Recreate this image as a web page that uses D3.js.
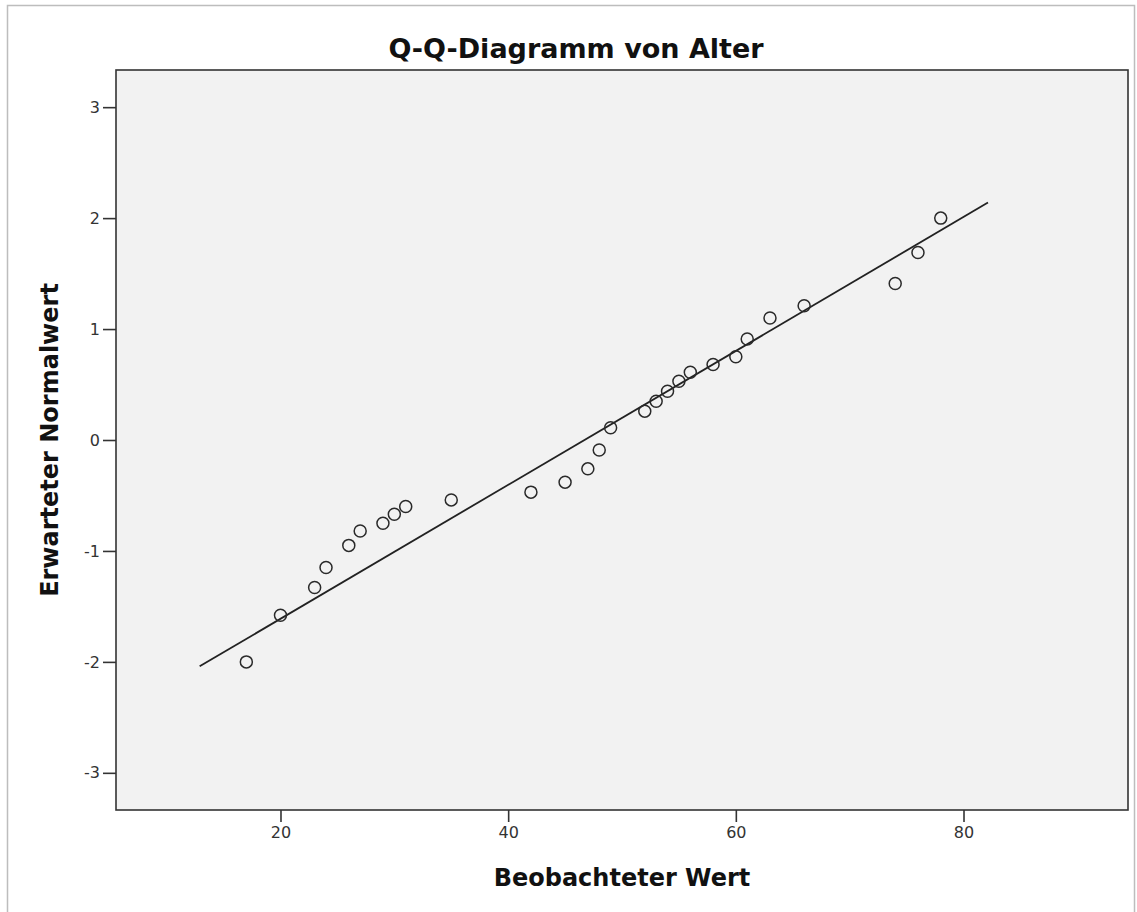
<!DOCTYPE html>
<html>
<head>
<meta charset="utf-8">
<script src="https://cdn.jsdelivr.net/npm/d3@7"></script>
<style>
  body { margin: 0; background: #fff; }
  text { font-family: "DejaVu Sans", Verdana, sans-serif; }
</style>
</head>
<body>
<div id="QQ"></div>
<script>
// Q-Q plot (SPSS look)

const FRAME_WIDTH = 1137;
const FRAME_HEIGHT = 912;
const MARGINS = {left: 116, right: 9, top: 70, bottom: 102};

const VIS_WIDTH = FRAME_WIDTH - MARGINS.left - MARGINS.right;
const VIS_HEIGHT = FRAME_HEIGHT - MARGINS.top - MARGINS.bottom;

const AGES = [17, 20, 23, 24, 26, 27, 29, 30, 31, 35, 42, 45, 47, 48, 49, 52, 53, 54,
              55, 56, 58, 60, 61, 63, 66, 74, 76, 78];
const EXPECTED = [-2.00, -1.58, -1.33, -1.15, -0.95, -0.82, -0.75, -0.67, -0.60, -0.54,
                  -0.47, -0.38, -0.26, -0.09, 0.11, 0.26, 0.35, 0.44, 0.53, 0.61,
                  0.68, 0.75, 0.91, 1.10, 1.21, 1.41, 1.69, 2.00];

// reference line end points
const LINE_X = [12.9, 82.15];
const LINE_Y = [-2.04, 2.14];

const X_TICKS = [20, 40, 60, 80];
const Y_TICKS = [-3, -2, -1, 0, 1, 2, 3];

const TITLE = "Q-Q-Diagramm von Alter";
const X_LABEL = "Beobachteter Wert";
const Y_LABEL = "Erwarteter Normalwert";

const FRAME1 = d3.select('#QQ')
        .append('svg')
          .attr('width', FRAME_WIDTH)
          .attr('height', FRAME_HEIGHT);

// outer border
FRAME1.append('rect')
    .attr('x', 7.5)
    .attr('y', 5.5)
    .attr('width', 1127)
    .attr('height', 930)
    .attr('fill', 'none')
    .attr('stroke', '#bdbdbd')
    .attr('stroke-width', 1.5);

const xscale = d3.scaleLinear()
        .domain([5.55, 94.45])
        .range([0, VIS_WIDTH]);

const yscale = d3.scaleLinear()
        .domain([-3.335, 3.335])
        .range([VIS_HEIGHT, 0]);

const G = FRAME1.append('g')
    .attr('transform', 'translate(' + MARGINS.left + ',' + MARGINS.top + ')');

G.append('rect')
    .attr('width', VIS_WIDTH)
    .attr('height', VIS_HEIGHT)
    .attr('fill', '#f2f2f2');

// x axis
const xAxis = G.append('g')
    .attr('transform', 'translate(0,' + VIS_HEIGHT + ')')
    .call(d3.axisBottom(xscale).tickValues(X_TICKS).tickSize(12).tickPadding(5)
            .tickFormat(d => String(d)));

// y axis
const yAxis = G.append('g')
    .call(d3.axisLeft(yscale).tickValues(Y_TICKS).tickSize(13).tickPadding(3)
            .tickFormat(d => String(d)));

[xAxis, yAxis].forEach(ax => {
  ax.select('.domain').remove();
  ax.selectAll('line').attr('stroke', '#333').attr('stroke-width', 1.6);
  ax.selectAll('text')
      .attr('font-size', '16px')
      .attr('fill', '#333')
      .attr('font-family', '"DejaVu Sans", sans-serif');
});

// plot frame
G.append('rect')
    .attr('width', VIS_WIDTH)
    .attr('height', VIS_HEIGHT)
    .attr('fill', 'none')
    .attr('stroke', '#333')
    .attr('stroke-width', 1.6);

// reference line
G.append('line')
    .attr('x1', xscale(LINE_X[0]))
    .attr('y1', yscale(LINE_Y[0]))
    .attr('x2', xscale(LINE_X[1]))
    .attr('y2', yscale(LINE_Y[1]))
    .attr('stroke', '#222')
    .attr('stroke-width', 1.8);

// points
G.selectAll('.point')
    .data(AGES)
    .enter()
    .append('circle')
      .attr('class', 'point')
      .attr('cx', (d) => xscale(d))
      .attr('cy', (d, i) => yscale(EXPECTED[i]))
      .attr('r', 6)
      .attr('fill', 'none')
      .attr('stroke', '#2a2a2a')
      .attr('stroke-width', 1.5);

// title and axis labels
FRAME1.append('text')
    .attr('x', 576)
    .attr('y', 58)
    .attr('text-anchor', 'middle')
    .attr('font-size', '27px')
    .attr('font-weight', 'bold')
    .attr('fill', '#111')
    .text(TITLE);

FRAME1.append('text')
    .attr('x', MARGINS.left + VIS_WIDTH / 2)
    .attr('y', 886)
    .attr('text-anchor', 'middle')
    .attr('font-size', '24px')
    .attr('font-weight', 'bold')
    .attr('fill', '#111')
    .text(X_LABEL);

FRAME1.append('text')
    .attr('transform', 'translate(58,' + (MARGINS.top + VIS_HEIGHT / 2) + ') rotate(-90)')
    .attr('text-anchor', 'middle')
    .attr('font-size', '24px')
    .attr('font-weight', 'bold')
    .attr('fill', '#111')
    .text(Y_LABEL);
</script>
</body>
</html>
